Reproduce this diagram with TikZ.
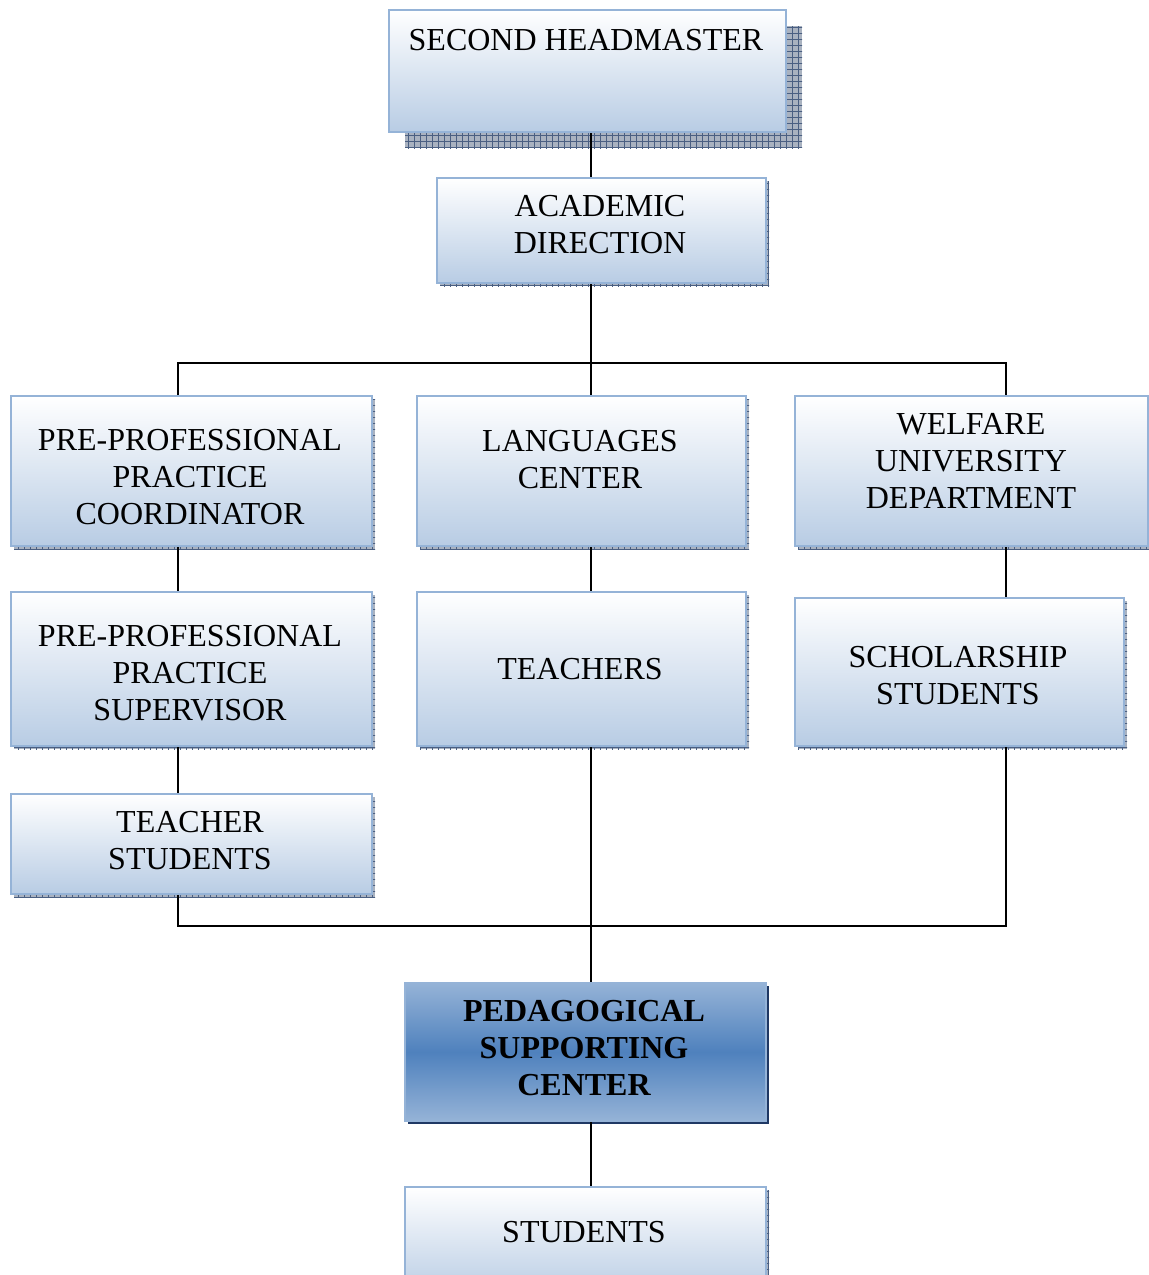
\documentclass[tikz,border=0pt]{standalone}
\usepackage{fontspec}
\setmainfont{Liberation Serif}
\usetikzlibrary{shadows,patterns.meta,calc}
\definecolor{bordblue}{HTML}{95B3D7}
\definecolor{lowblue}{HTML}{B8CCE4}
\definecolor{midblue}{HTML}{4F81BD}
\definecolor{shadowgray}{HTML}{A9B2C0}
\definecolor{gridblue}{HTML}{4A5F82}
\definecolor{navy}{HTML}{1F3864}
\tikzset{
  orgbox/.style={draw=bordblue, line width=2pt, top color=white, bottom color=lowblue,
    inner sep=0pt, anchor=north west},
  pedbox/.style={draw=bordblue, line width=2pt, top color=bordblue, bottom color=bordblue,
    middle color=midblue, inner sep=0pt, anchor=north west,
    general shadow={fill=navy, shadow xshift=3pt, shadow yshift=-3pt}},
  gridshadow/.style={
    general shadow={fill=shadowgray, shadow xshift=#1pt, shadow yshift=-#1pt},
    general shadow={pattern={Lines[distance=6pt,angle=0,line width=0.7pt]}, pattern color=gridblue, shadow xshift=#1pt, shadow yshift=-#1pt},
    general shadow={pattern={Lines[distance=6pt,angle=90,line width=0.7pt]}, pattern color=gridblue, shadow xshift=#1pt, shadow yshift=-#1pt}},
  txt/.style={align=center, inner sep=0pt, font=\fontsize{32}{37}\selectfont},
  conn/.style={draw=black, line width=2pt},
}
\begin{document}
\begin{tikzpicture}[x=1pt,y=-1pt]
\useasboundingbox (0,0) rectangle (1149,1275);
% boxes
\node[orgbox, gridshadow=16, minimum width=397pt, minimum height=122pt] (hm) at (388,9) {};
\node[orgbox, gridshadow=3, minimum width=329pt, minimum height=105pt] (ad) at (436,177) {};
\node[orgbox, gridshadow=3, minimum width=361pt, minimum height=150pt] (coord) at (10,395) {};
\node[orgbox, gridshadow=3, minimum width=329pt, minimum height=150pt] (lang) at (416,395) {};
\node[orgbox, gridshadow=3, minimum width=353pt, minimum height=150pt] (welf) at (794,395) {};
\node[orgbox, gridshadow=3, minimum width=361pt, minimum height=154pt] (sup) at (10,591) {};
\node[orgbox, gridshadow=3, minimum width=329pt, minimum height=154pt] (teach) at (416,591) {};
\node[orgbox, gridshadow=3, minimum width=329pt, minimum height=148pt] (schol) at (794,597) {};
\node[orgbox, gridshadow=3, minimum width=361pt, minimum height=100pt] (tstud) at (10,793) {};
\node[pedbox, minimum width=361pt, minimum height=138pt] (ped) at (404,982) {};
\node[orgbox, gridshadow=3, minimum width=361pt, minimum height=109pt] (stud) at (404,1186) {};
% texts
\node[txt] (hmt) at (586,40) {SECOND HEADMASTER};
\node[txt] (adt) at (600,225) {ACADEMIC\\DIRECTION};
\node[txt] (coordt) at (190,477) {PRE-PROFESSIONAL\\PRACTICE\\COORDINATOR};
\node[txt] (langt) at (580,460) {LANGUAGES\\CENTER};
\node[txt] (welft) at (971,461) {WELFARE\\UNIVERSITY\\DEPARTMENT};
\node[txt] (supt) at (190,673) {PRE-PROFESSIONAL\\PRACTICE\\SUPERVISOR};
\node[txt] (teacht) at (580,669) {TEACHERS};
\node[txt] (scholt) at (958,676) {SCHOLARSHIP\\STUDENTS};
\node[txt] (tstudt) at (190,841) {TEACHER\\STUDENTS};
\node[txt, font=\fontsize{32}{37}\selectfont\bfseries] (pedt) at (584,1048) {PEDAGOGICAL\\SUPPORTING\\CENTER};
\node[txt] (studt) at (584,1232) {STUDENTS};
% junctions
\coordinate (j1) at (591,363);
\coordinate (jl) at (178,363);
\coordinate (jr) at (1006,363);
\coordinate (b1) at (591,926);
\coordinate (bl) at (178,926);
\coordinate (br) at (1006,926);
% connectors
\draw[conn] (hm.south -| j1) -- (ad.north -| j1);
\draw[conn] (ad.south -| j1) -- (lang.north -| j1);
\draw[conn] (coord.north -| jl) -- (jl) -- (jr) -- (welf.north -| jr);
\draw[conn] (coord.south -| jl) -- (sup.north -| jl);
\draw[conn] (sup.south -| jl) -- (tstud.north -| jl);
\draw[conn] (lang.south -| j1) -- (teach.north -| j1);
\draw[conn] (welf.south -| jr) -- (schol.north -| jr);
\draw[conn] (tstud.south -| bl) -- (bl) -- (br) -- (schol.south -| br);
\draw[conn] (teach.south -| j1) -- (ped.north -| j1);
\draw[conn] (ped.south -| j1) -- (stud.north -| j1);
\end{tikzpicture}
\end{document}
